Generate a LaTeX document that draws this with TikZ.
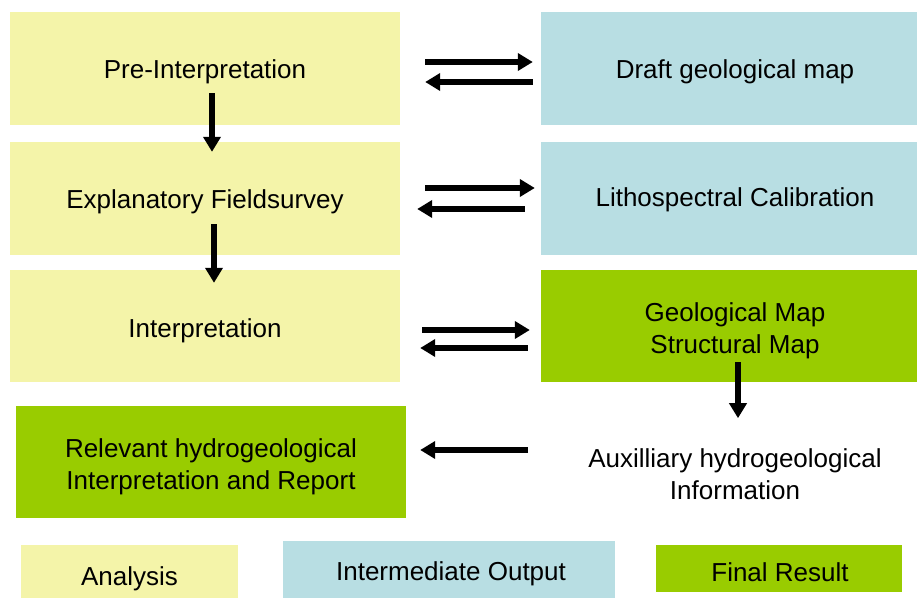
\documentclass[tikz,border=0pt]{standalone}
\usepackage{fontspec}
\setmainfont{Liberation Sans}
\usetikzlibrary{arrows.meta}
\definecolor{ana}{HTML}{F4F4A9}
\definecolor{inter}{HTML}{B8DEE3}
\definecolor{fin}{HTML}{99CC00}
\tikzset{
  box/.style={draw=none,inner sep=0pt},
  txt/.style={inner sep=0pt,align=center,font=\fontsize{26}{32}\selectfont},
  arr/.style={line width=5.5pt,-{Triangle[length=15pt,width=17pt]}}
}
\begin{document}
\begin{tikzpicture}[x=1pt,y=-1pt]
\useasboundingbox (0,0) rectangle (917,599);
% boxes
\node[box,fill=ana,minimum width=390pt,minimum height=113pt] (pre) at (205,68.5) {};
\node[txt] at (205,72) {Pre-Interpretation};
\node[box,fill=ana,minimum width=390pt,minimum height=113pt] (fs) at (205,198.5) {};
\node[txt] at (205,202) {Explanatory Fieldsurvey};
\node[box,fill=ana,minimum width=390pt,minimum height=112pt] (interp) at (205,326) {};
\node[txt] at (205,331) {Interpretation};
\node[box,fill=inter,minimum width=376pt,minimum height=113pt] (draft) at (729,68.5) {};
\node[txt] at (735,72) {Draft geological map};
\node[box,fill=inter,minimum width=376pt,minimum height=113pt] (lith) at (729,198.5) {};
\node[txt] at (735,200) {Lithospectral Calibration};
\node[box,fill=fin,minimum width=376pt,minimum height=112pt] (geo) at (729,326) {};
\node[txt] at (735,331) {Geological Map\\Structural Map};
\node[box,fill=fin,minimum width=390pt,minimum height=112pt] (rel) at (211,462) {};
\node[txt] at (211,467) {Relevant hydrogeological\\Interpretation and Report};
\node[txt] (aux) at (735,474) {Auxilliary hydrogeological\\Information};
% legend
\node[box,fill=ana,minimum width=217pt,minimum height=53pt] (lga) at (129.5,571.5) {};
\node[txt] at (129.5,579) {Analysis};
\node[box,fill=inter,minimum width=332pt,minimum height=57pt] (lgi) at (449,569.5) {};
\node[txt] at (451,574) {Intermediate Output};
\node[box,fill=fin,minimum width=246pt,minimum height=47pt] (lgf) at (779,568.5) {};
\node[txt] at (780,572) {Final Result};
% horizontal arrows
\draw[arr,shorten <=25pt,shorten >=8pt] ([yshift=6.5pt]pre.east) -- ([yshift=6.5pt]draft.west);
\draw[arr,shorten <=8pt,shorten >=25pt] ([yshift=-13.5pt]draft.west) -- ([yshift=-13.5pt]pre.east);
\draw[arr,shorten <=25pt,shorten >=6pt] ([yshift=10.5pt]fs.east) -- ([yshift=10.5pt]lith.west);
\draw[arr,shorten <=16pt,shorten >=17pt] ([yshift=-10.5pt]lith.west) -- ([yshift=-10.5pt]fs.east);
\draw[arr,shorten <=22pt,shorten >=11pt] ([yshift=-4pt]interp.east) -- ([yshift=-4pt]geo.west);
\draw[arr,shorten <=13pt,shorten >=20pt] ([yshift=-22pt]geo.west) -- ([yshift=-22pt]interp.east);
\coordinate (a4) at (528,450);
\draw[arr,shorten >=14pt] (a4) -- (a4 -| rel.east);
% vertical arrows
\draw[arr] ([xshift=7pt,yshift=32pt]pre.south) -- ([xshift=7pt,yshift=-10pt]fs.north);
\draw[arr] ([xshift=9pt,yshift=31pt]fs.south) -- ([xshift=9pt,yshift=-13pt]interp.north);
\draw[arr] ([xshift=9pt,yshift=20pt]geo.south) -- ([xshift=9pt,yshift=-36pt]geo.south);
\end{tikzpicture}
\end{document}
